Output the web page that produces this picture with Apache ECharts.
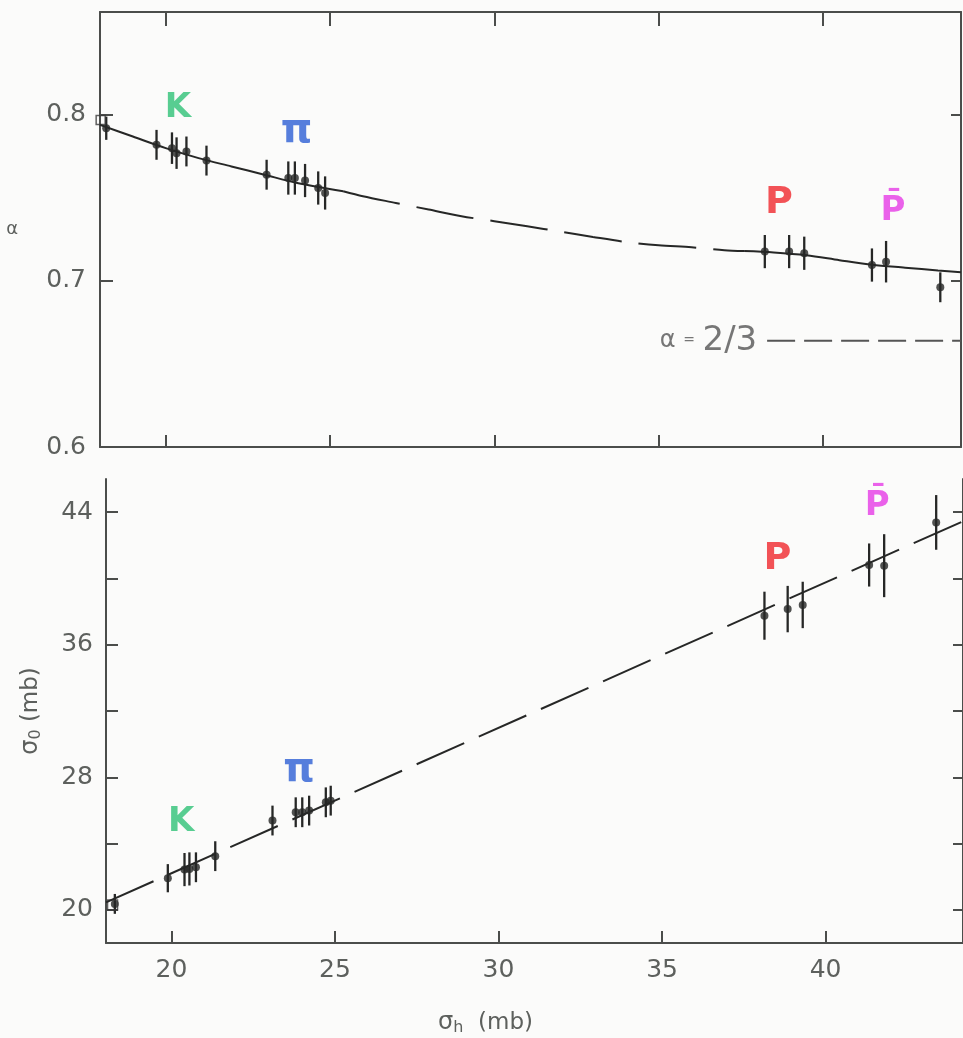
<!DOCTYPE html>
<html>
<head>
<meta charset="utf-8">
<script src="https://cdn.jsdelivr.net/npm/echarts@6/dist/echarts.min.js"></script>
<style>
html,body{margin:0;padding:0;background:#fbfbfa;}
#c{width:963px;height:1038px;}
</style>
</head>
<body>
<div id="c"></div>
<script>
// ---------------- DATA ----------------
// Upper panel: exponent alpha versus sigma_h (mb)
const sigmaH_alpha = [18.19, 19.72, 20.19, 20.33, 20.63, 21.24, 23.07, 23.73, 23.93, 24.24, 24.64, 24.85, 38.23, 38.97, 39.43, 41.49, 41.92, 43.57];
const alphaValues  = [0.792, 0.782, 0.780, 0.777, 0.778, 0.7725, 0.764, 0.762, 0.762, 0.7605, 0.756, 0.753, 0.7177, 0.7177, 0.7167, 0.7096, 0.7116, 0.6962];
const alphaErrors  = [0.007, 0.009, 0.0095, 0.0095, 0.009, 0.009, 0.009, 0.010, 0.010, 0.010, 0.010, 0.010, 0.010, 0.010, 0.010, 0.010, 0.0125, 0.009];
const alphaSquareX = [18.02];
const alphaSquareY = [0.797];
// fitted curve
const alphaCurveX = [18, 19, 20, 21, 22, 23, 24, 25.4, 26, 27, 28, 29, 30, 31, 32, 33, 34, 35, 36, 37, 37.6, 38.5, 39.5, 40.5, 41.5, 42.5, 43.5, 44.2];
const alphaCurveY = [0.794, 0.787, 0.780, 0.774, 0.769, 0.764, 0.759, 0.754, 0.751, 0.747, 0.743, 0.739, 0.736, 0.733, 0.7297, 0.7265, 0.7235, 0.7215, 0.7203, 0.7185, 0.718, 0.7172, 0.7155, 0.7125, 0.7097, 0.708, 0.7063, 0.7052];
const alphaDashedFrom = 25.4;
const alphaDashedTo = 37.6;
const alphaRefX = [38.3, 44.2];
const alphaRefValue = 0.664;

// Lower panel: sigma_0 (mb) versus sigma_h (mb)
const sigmaH_sigma0 = [18.27, 19.89, 20.40, 20.55, 20.75, 21.34, 23.09, 23.80, 24.00, 24.21, 24.72, 24.87, 38.13, 38.84, 39.30, 41.33, 41.79, 43.38];
const sigma0Values  = [20.36, 21.91, 22.43, 22.47, 22.57, 23.24, 25.39, 25.89, 25.89, 25.99, 26.49, 26.59, 37.75, 38.15, 38.40, 40.81, 40.77, 43.38];
const sigma0Errors  = [0.6, 0.85, 1.0, 1.0, 0.9, 0.9, 0.9, 0.9, 0.9, 0.9, 0.9, 0.9, 1.45, 1.4, 1.4, 1.3, 1.9, 1.65];
const sigma0SquareX = [18.2];
const sigma0SquareY = [20.3];
const sigma0FitX = [18, 44.2];
const sigma0FitY = [20.45, 43.45];

// particle labels and their anchors (data coordinates)
const particleNames = ['K', 'π', 'P', 'P\u0304'];
const labelAlphaX  = [20.37, 23.98, 38.66, 42.13];
const labelAlphaY  = [0.804, 0.790, 0.747, 0.742];
const labelSigma0X = [20.30, 23.90, 38.53, 41.58];
const labelSigma0Y = [25.29, 28.40, 41.17, 44.37];

// ticks and tick labels
const xTicks = [20, 25, 30, 35, 40];
const alphaTickMarks = [0.7, 0.8];
const alphaTickLabels = [0.6, 0.7, 0.8];
const sigma0TickMarks = [20, 24, 28, 32, 36, 40, 44];
const sigma0TickLabels = [20, 28, 36, 44];

// ---------------- STYLE ----------------
const FONT = 'DejaVu Sans';
const axisColor = '#4b4d4b';
const labelColor = '#5d605d';
const pointColor = '#262726';
const particleColors = {'K': '#2fc277', 'π': '#2d5fd4', 'P': '#f0282d', 'P\u0304': '#e63be6'};
const particleSizes = {'K': 34, 'π': 40, 'P': 38, 'P\u0304': 34};

function zip(xs, ys) { return xs.map((x, i) => [x, ys[i]]); }
function errData(xs, ys, es) { return xs.map((x, i) => [x, ys[i] - es[i], ys[i] + es[i]]); }
function errorBarRender(params, api) {
  const x = api.value(0);
  const p1 = api.coord([x, api.value(1)]);
  const p2 = api.coord([x, api.value(2)]);
  return {type: 'line', shape: {x1: p1[0], y1: p1[1], x2: p2[0], y2: p2[1]},
          style: {stroke: pointColor, lineWidth: 2.3}};
}
function labelData(xs, ys) {
  return xs.map((x, i) => ({
    value: [x, ys[i]],
    label: {formatter: particleNames[i], color: particleColors[particleNames[i]],
            fontSize: particleSizes[particleNames[i]]}
  }));
}

const curveAll = zip(alphaCurveX, alphaCurveY);
const curveSolidA = curveAll.filter(p => p[0] <= alphaDashedFrom);
const curveDashed = curveAll.filter(p => p[0] >= alphaDashedFrom && p[0] <= alphaDashedTo);
const curveSolidB = curveAll.filter(p => p[0] >= alphaDashedTo);

const lineAxis = {show: true, onZero: false, lineStyle: {color: axisColor, width: 2}};
const tickStyle = {color: axisColor, width: 2};
const nameRich = {
  s: {fontSize: 24, color: labelColor, fontFamily: FONT},
  sub: {fontSize: 16, color: labelColor, verticalAlign: 'bottom', padding: [10, 0, 0, 0], fontFamily: FONT},
  t: {fontSize: 23, color: labelColor, fontFamily: FONT}
};

const chart = echarts.init(document.getElementById('c'), null, {renderer: 'canvas'});
chart.setOption({
  animation: false,
  backgroundColor: '#fbfbfa',
  textStyle: {fontFamily: FONT},
  grid: [
    {left: 100, top: 12, width: 861, height: 435},
    {left: 106, top: 479, width: 860, height: 464}
  ],
  xAxis: [
    {gridIndex: 0, type: 'value', min: 18, max: 44.2, position: 'bottom',
     axisLine: lineAxis, splitLine: {show: false},
     axisTick: {show: true, inside: true, length: 12, customValues: xTicks, lineStyle: tickStyle},
     axisLabel: {show: false}},
    {gridIndex: 0, type: 'value', min: 18, max: 44.2, position: 'top',
     axisLine: lineAxis, splitLine: {show: false},
     axisTick: {show: true, inside: true, length: 14, customValues: xTicks, lineStyle: tickStyle},
     axisLabel: {show: false}},
    {gridIndex: 1, type: 'value', min: 18, max: 44.2, position: 'bottom',
     axisLine: lineAxis, splitLine: {show: false},
     axisTick: {show: true, inside: true, length: 12, customValues: xTicks, lineStyle: tickStyle},
     axisLabel: {show: true, customValues: xTicks, margin: 15, color: labelColor, fontSize: 25, fontFamily: FONT},
     name: '{s|σ}{sub|h}{t|  (mb)}', nameLocation: 'middle', nameGap: 67,
     nameTextStyle: {color: labelColor, fontSize: 23, fontFamily: FONT, padding: [0, 98, 0, 0], rich: nameRich}}
  ],
  yAxis: [
    {gridIndex: 0, type: 'value', min: 0.6, max: 0.862, position: 'left',
     axisLine: lineAxis, splitLine: {show: false},
     axisTick: {show: true, inside: true, length: 13, customValues: alphaTickMarks, lineStyle: tickStyle},
     axisLabel: {show: true, customValues: alphaTickLabels, margin: 14, color: labelColor, fontSize: 25, fontFamily: FONT,
                 formatter: v => Number(v).toFixed(1)},
     name: 'α', nameLocation: 'middle', nameRotate: 0, nameGap: 82,
     nameTextStyle: {color: labelColor, fontSize: 18, fontFamily: FONT}},
    {gridIndex: 0, type: 'value', min: 0.6, max: 0.862, position: 'right',
     axisLine: lineAxis, splitLine: {show: false},
     axisTick: {show: true, inside: true, length: 10, customValues: alphaTickMarks, lineStyle: tickStyle},
     axisLabel: {show: false}},
    {gridIndex: 1, type: 'value', min: 18, max: 46, position: 'left',
     axisLine: lineAxis, splitLine: {show: false},
     axisTick: {show: true, inside: true, length: 12, customValues: sigma0TickMarks, lineStyle: tickStyle},
     axisLabel: {show: true, customValues: sigma0TickLabels, margin: 13, color: labelColor, fontSize: 25, fontFamily: FONT},
     name: '{s|σ}{sub|0}{t| (mb)}', nameLocation: 'middle', nameRotate: 90, nameGap: 62,
     nameTextStyle: {color: labelColor, fontSize: 23, fontFamily: FONT, rich: nameRich}},
    {gridIndex: 1, type: 'value', min: 18, max: 46, position: 'right',
     axisLine: lineAxis, splitLine: {show: false},
     axisTick: {show: true, inside: true, length: 10, customValues: sigma0TickMarks, lineStyle: tickStyle},
     axisLabel: {show: false}}
  ],
  series: [
    // ---- upper panel ----
    {type: 'line', xAxisIndex: 0, yAxisIndex: 0, data: curveSolidA, showSymbol: false, smooth: 0.3,
     lineStyle: {color: pointColor, width: 2}},
    {type: 'line', xAxisIndex: 0, yAxisIndex: 0, data: curveDashed, showSymbol: false, smooth: 0.3,
     lineStyle: {color: pointColor, width: 2, type: [58, 17]}},
    {type: 'line', xAxisIndex: 0, yAxisIndex: 0, data: curveSolidB, showSymbol: false, smooth: 0.3,
     lineStyle: {color: pointColor, width: 2}},
    {type: 'line', xAxisIndex: 0, yAxisIndex: 0, data: alphaRefX.map(x => [x, alphaRefValue]), showSymbol: false,
     lineStyle: {color: '#555', width: 2, type: [28, 9]}},
    {type: 'scatter', xAxisIndex: 0, yAxisIndex: 0, symbolSize: 0, data: [[alphaRefX[0] - 0.3, alphaRefValue]],
     label: {show: true, position: 'left', distance: 0, formatter: '{a|α}  {e|=}  {n|2/3}',
             rich: {a: {fontSize: 24, color: '#555', fontFamily: FONT},
                    e: {fontSize: 14, color: '#555', fontFamily: FONT},
                    n: {fontSize: 34, color: '#555', fontFamily: FONT}}}},
    {type: 'custom', xAxisIndex: 0, yAxisIndex: 0, renderItem: errorBarRender,
     encode: {x: 0, y: [1, 2]}, data: errData(sigmaH_alpha, alphaValues, alphaErrors)},
    {type: 'scatter', xAxisIndex: 0, yAxisIndex: 0, symbol: 'circle', symbolSize: 8,
     itemStyle: {color: pointColor}, data: zip(sigmaH_alpha, alphaValues)},
    {type: 'scatter', xAxisIndex: 0, yAxisIndex: 0, symbol: 'rect', symbolSize: 9, clip: false,
     itemStyle: {color: 'rgba(0,0,0,0)', borderColor: '#3a3a3a', borderWidth: 1.5}, data: zip(alphaSquareX, alphaSquareY)},
    {type: 'scatter', xAxisIndex: 0, yAxisIndex: 0, symbolSize: 0,
     label: {show: true, position: 'inside', fontFamily: FONT, fontWeight: 'bold'}, data: labelData(labelAlphaX, labelAlphaY)},
    // ---- lower panel ----
    {type: 'line', xAxisIndex: 2, yAxisIndex: 2, data: zip(sigma0FitX, sigma0FitY), showSymbol: false,
     lineStyle: {color: pointColor, width: 2, type: [52, 16]}},
    {type: 'custom', xAxisIndex: 2, yAxisIndex: 2, renderItem: errorBarRender,
     encode: {x: 0, y: [1, 2]}, data: errData(sigmaH_sigma0, sigma0Values, sigma0Errors)},
    {type: 'scatter', xAxisIndex: 2, yAxisIndex: 2, symbol: 'circle', symbolSize: 8,
     itemStyle: {color: pointColor}, data: zip(sigmaH_sigma0, sigma0Values)},
    {type: 'scatter', xAxisIndex: 2, yAxisIndex: 2, symbol: 'rect', symbolSize: 10, clip: false,
     itemStyle: {color: 'rgba(0,0,0,0)', borderColor: '#3a3a3a', borderWidth: 1.5}, data: zip(sigma0SquareX, sigma0SquareY)},
    {type: 'scatter', xAxisIndex: 2, yAxisIndex: 2, symbolSize: 0,
     label: {show: true, position: 'inside', fontFamily: FONT, fontWeight: 'bold'}, data: labelData(labelSigma0X, labelSigma0Y)}
  ]
});
</script>
</body>
</html>
